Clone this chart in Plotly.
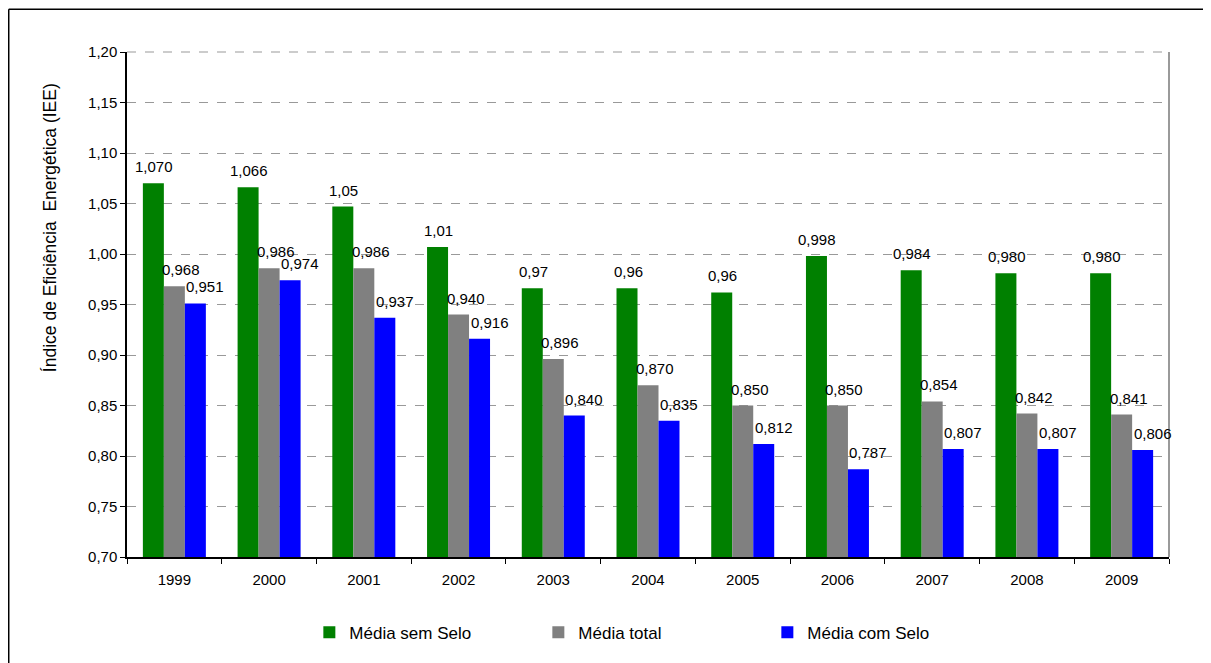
import plotly.graph_objects as go

# Data
years = ['1999', '2000', '2001', '2002', '2003', '2004', '2005', '2006', '2007', '2008', '2009']

media_sem_selo = [1.070, 1.066, 1.047, 1.007, 0.966, 0.966, 0.962, 0.998, 0.984, 0.981, 0.981]
media_total = [0.968, 0.986, 0.986, 0.940, 0.896, 0.870, 0.850, 0.850, 0.854, 0.842, 0.841]
media_com_selo = [0.951, 0.974, 0.937, 0.916, 0.840, 0.835, 0.812, 0.787, 0.807, 0.807, 0.806]

# Labels as printed on the chart
labels_sem_selo = ['1,070', '1,066', '1,05', '1,01', '0,97', '0,96', '0,96', '0,998', '0,984', '0,980', '0,980']
labels_total = ['0,968', '0,986', '0,986', '0,940', '0,896', '0,870', '0,850', '0,850', '0,854', '0,842', '0,841']
labels_com_selo = ['0,951', '0,974', '0,937', '0,916', '0,840', '0,835', '0,812', '0,787', '0,807', '0,807', '0,806']

FONT = 'Liberation Sans, Arial, sans-serif'

series = [
    ('Média sem Selo', media_sem_selo, labels_sem_selo, '#008000', -20),
    ('Média total', media_total, labels_total, '#808080', 7),
    ('Média com Selo', media_com_selo, labels_com_selo, '#0000FF', 31),
]

fig = go.Figure()
annotations = []

for name, vals, labels, color, shift in series:
    fig.add_trace(go.Bar(
        x=years,
        y=vals,
        name=name,
        marker=dict(color=color, line=dict(width=0)),
    ))
    # value labels above each bar (category index, since year strings look numeric)
    for i, (v, lab) in enumerate(zip(vals, labels)):
        annotations.append(dict(
            x=i, y=v, text=lab, showarrow=False,
            xanchor='center', yanchor='bottom',
            xshift=shift, yshift=6,
            font=dict(family=FONT, size=15, color='#000000'),
        ))

# y-axis title (sits higher than the plot's centre in the reference)
annotations.append(dict(
    x=-0.074, y=0.653, xref='paper', yref='paper',
    text='Índice de Eficiência  Energética (IEE)', textangle=-90,
    showarrow=False, xanchor='center', yanchor='middle',
    font=dict(family=FONT, size=17.5, color='#000000'),
))

shapes = [
    # dashed line along the top of the plot area (1,20)
    dict(type='line', xref='paper', yref='paper', x0=0, x1=1, y0=1, y1=1,
         line=dict(color='#999999', width=1, dash='dash')),
    # right edge of the plot area
    dict(type='line', xref='paper', yref='paper', x0=1, x1=1, y0=0, y1=1,
         line=dict(color='#9a9a9a', width=2)),
    # outer frame
    dict(type='line', xref='paper', yref='paper', x0=-0.1135, x1=1.0374, y0=1.0848, y1=1.0848,
         line=dict(color='#000000', width=1.5)),
    dict(type='line', xref='paper', yref='paper', x0=-0.1135, x1=-0.1135, y0=-0.4, y1=1.0848,
         line=dict(color='#000000', width=1.5)),
    dict(type='line', xref='paper', yref='paper', x0=1.0374, x1=1.0374, y0=-0.4, y1=1.0848,
         line=dict(color='#9a9a9a', width=1.5)),
]

fig.update_layout(
    width=1203,
    height=655,
    barmode='group',
    bargap=0.335,
    bargroupgap=0,
    separators=', ',
    paper_bgcolor='white',
    plot_bgcolor='white',
    font=dict(family=FONT, size=15, color='#000000'),
    margin=dict(l=119, r=42, t=44, b=104),
    xaxis=dict(
        type='category', range=[-0.5, 10.5], automargin=False,
        showline=True, linecolor='#000000', linewidth=1.5,
        ticks='outside', tickson='boundaries', ticklen=5, tickcolor='#000000',
        showgrid=False, tickangle=0, ticklabelstandoff=8,
        tickfont=dict(family=FONT, size=15),
    ),
    yaxis=dict(
        range=[0.70, 1.20], dtick=0.05, tick0=0.70, tickformat='.2f', automargin=False,
        showline=True, linecolor='#000000', linewidth=1.5,
        ticks='outside', ticklen=5, tickcolor='#000000',
        showgrid=True, gridcolor='#999999', gridwidth=1, griddash='dash',
        zeroline=False,
        tickfont=dict(family=FONT, size=15),
    ),
    legend=dict(
        orientation='h', x=0.175, y=-0.15, xanchor='left', yanchor='middle',
        entrywidth=184, entrywidthmode='pixels', itemwidth=30,
        font=dict(family=FONT, size=17),
        bgcolor='rgba(0,0,0,0)',
    ),
    annotations=annotations,
    shapes=shapes,
)

fig.write_html('out.html')
